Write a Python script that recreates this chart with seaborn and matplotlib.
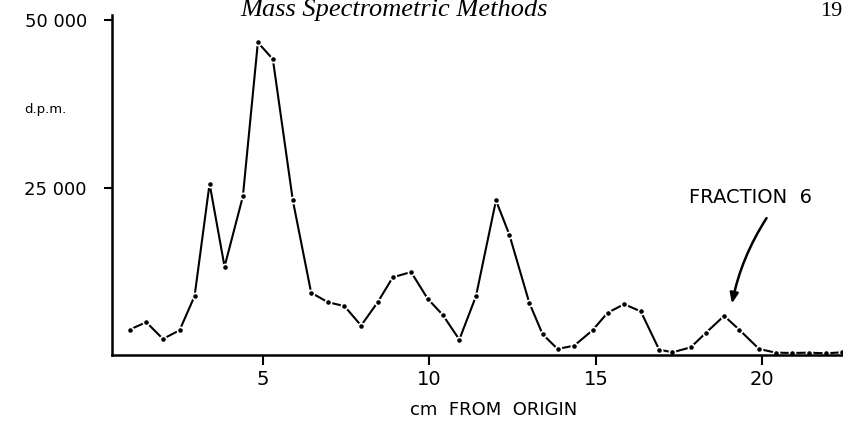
import matplotlib
matplotlib.use("Agg")
import matplotlib.pyplot as plt
import seaborn as sns
import pandas as pd

# Data
cm_from_origin = [1.0, 1.5, 2.0, 2.5, 2.95, 3.4, 3.85, 4.4, 4.85, 5.3, 5.9, 6.45, 6.95, 7.45,
                  7.95, 8.45, 8.9, 9.45, 9.95, 10.4, 10.9, 11.4, 12.0, 12.4, 13.0, 13.4, 13.85,
                  14.35, 14.9, 15.35, 15.85, 16.35, 16.9, 17.3, 17.85, 18.3, 18.85, 19.3, 19.9,
                  20.4, 20.9, 21.4, 21.9, 22.4]
dpm = [3800, 4900, 2400, 3700, 8800, 25600, 13200, 23700, 46700, 44200, 23100, 9300, 7900, 7300,
       4400, 7900, 11600, 12400, 8400, 6000, 2300, 8800, 23100, 18000, 7800, 3100, 900,
       1400, 3700, 6300, 7600, 6500, 800, 400, 1150, 3300, 5850, 3800, 900,
       350, 300, 350, 250, 400]
x_ticks = [5, 10, 15, 20]
y_ticks = [25000, 50000]
y_tick_labels = ["25 000", "50 000"]

df = pd.DataFrame({"cm": cm_from_origin, "dpm": dpm})

sns.set_style("ticks")
plt.rcParams["font.family"] = ["DejaVu Sans"]
plt.rcParams["text.color"] = "black"

fig = plt.figure(figsize=(8.43, 4.22), dpi=100)
ax = fig.add_axes([112 / 843, 67 / 422, (843 - 112) / 843, (355 - 15) / 422])

sns.lineplot(data=df, x="cm", y="dpm", ax=ax, color="black", linewidth=1.5,
             marker="o", markersize=4.5, markerfacecolor="black",
             markeredgecolor="white", markeredgewidth=1.2, estimator=None, sort=False)

ax.set_xlim(0.47, 22.42)
ax.set_ylim(0, 50800)
ax.set_xticks(x_ticks)
ax.set_xticklabels([str(t) for t in x_ticks], fontsize=14, fontweight="medium")
ax.set_yticks(y_ticks)
ax.set_yticklabels(y_tick_labels, fontsize=13, fontweight="medium")
ax.tick_params(axis="x", direction="out", length=7, width=1.5, pad=4, colors="black")
ax.tick_params(axis="y", direction="out", length=6, width=1.5, pad=12, colors="black")
for s in ["top", "right"]:
    ax.spines[s].set_visible(False)
for s in ["left", "bottom"]:
    ax.spines[s].set_linewidth(1.8)
    ax.spines[s].set_color("black")

ax.set_xlabel("")
ax.set_ylabel("")
fig.text(494 / 843, 1 - 410 / 422, "cm  FROM  ORIGIN", fontsize=13, ha="center", va="center",
         color="black")

fig.text(45 / 843, 1 - 110 / 422, "d.p.m.", fontsize=9.5, ha="center", va="center", color="black")

ax.annotate("", xy=(19.07, 7300), xytext=(20.17, 20800),
            arrowprops=dict(arrowstyle="-|>,head_length=0.6,head_width=0.25",
                            color="black", lw=1.8,
                            connectionstyle="arc3,rad=0.1"))
ax.text(19.65, 23500, "FRACTION  6", fontsize=14, ha="center", va="center", color="black")

fig.text(0.467, 1 - 16 / 422, "Mass Spectrometric Methods", fontsize=19,
         family="Liberation Serif", style="italic", ha="center", va="baseline", color="black")
fig.text(820 / 843, 1 - 16 / 422, "19", fontsize=16, family="Liberation Serif",
         ha="left", va="baseline", color="black")

fig.savefig("out.png", dpi=100)
